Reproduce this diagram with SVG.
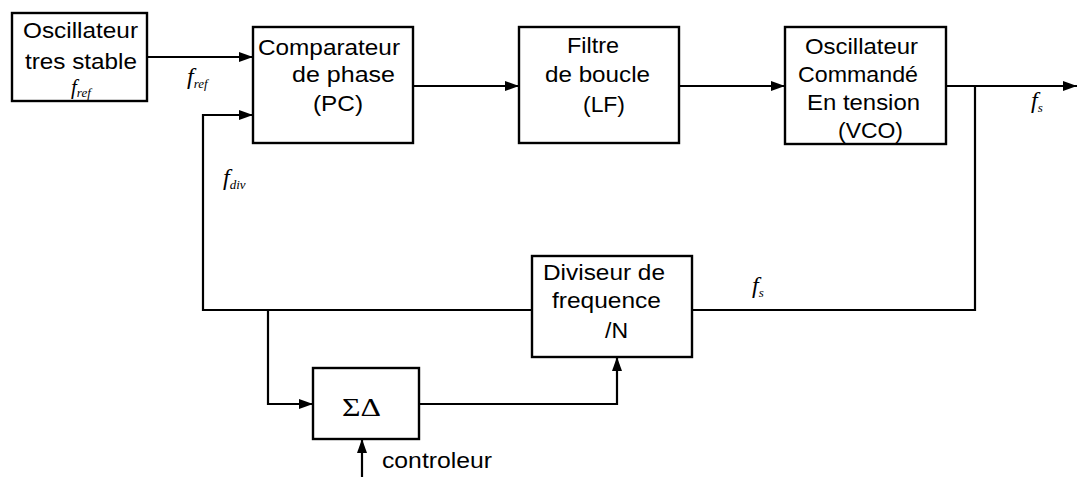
<svg xmlns="http://www.w3.org/2000/svg" width="1078" height="477" viewBox="0 0 1078 477">
  <style>
    .box { fill: #fff; stroke: #000; stroke-width: 2.4; }
    .wire { fill: none; stroke: #000; stroke-width: 2.2; }
    .lbl { font-family: "Liberation Sans", Arial, sans-serif; font-size: 22.5px; fill: #000; }
    .sym { font-family: "Liberation Serif", "Times New Roman", serif; font-style: italic; fill: #000; }
    .f { font-size: 24px; }
    .fs { font-size: 21px; }
    .sub { font-size: 13px; }
    .greek { font-family: "Liberation Serif", "Times New Roman", serif; font-size: 25px; fill: #000; }
  </style>
  <defs>
    <marker id="arrow" markerUnits="userSpaceOnUse" markerWidth="15" markerHeight="11" refX="14" refY="5.5" orient="auto">
      <path d="M0,0.5 L14,5.5 L0,10.5 Z" fill="#000"/>
    </marker>
  </defs>
  <rect width="1078" height="477" fill="#fff"/>

  <!-- signal paths -->
  <g id="connectors">
    <path class="wire" d="M147,57 H253" marker-end="url(#arrow)"/>
    <path class="wire" d="M413,86 H519" marker-end="url(#arrow)"/>
    <path class="wire" d="M679,86 H785" marker-end="url(#arrow)"/>
    <path class="wire" d="M946,86 H1077" marker-end="url(#arrow)"/>
    <path class="wire" d="M975,86 V310 H692"/>
    <path class="wire" d="M532,310 H203 V115 H253" marker-end="url(#arrow)"/>
    <path class="wire" d="M268,310 V404 H313" marker-end="url(#arrow)"/>
    <path class="wire" d="M419,404 H617 V357" marker-end="url(#arrow)"/>
    <path class="wire" d="M362,477 V439" marker-end="url(#arrow)"/>
  </g>

  <!-- frequency labels on the wires -->
  <g id="signal-labels">
    <text class="sym f" x="187" y="84">f<tspan class="sub" dy="4">ref</tspan></text>
    <text class="sym f" x="223" y="185">f<tspan class="sub" dy="4">div</tspan></text>
    <text class="sym f" x="1031" y="108">f<tspan class="sub" dy="4">s</tspan></text>
    <text class="sym f" x="752" y="293">f<tspan class="sub" dy="4">s</tspan></text>
  </g>

  <g id="ref-osc">
    <rect class="box" x="12" y="13" width="135" height="88"/>
    <text class="lbl" x="23" y="38" textLength="115" lengthAdjust="spacingAndGlyphs">Oscillateur</text>
    <text class="lbl" x="25" y="69" textLength="112" lengthAdjust="spacingAndGlyphs">tres stable</text>
    <text class="sym fs" x="71" y="94">f<tspan class="sub" dy="3">ref</tspan></text>
  </g>

  <g id="phase-comparator">
    <rect class="box" x="253" y="27" width="160" height="116"/>
    <text class="lbl" x="258" y="55" textLength="142" lengthAdjust="spacingAndGlyphs">Comparateur</text>
    <text class="lbl" x="292" y="82" textLength="103" lengthAdjust="spacingAndGlyphs">de phase</text>
    <text class="lbl" x="313" y="111" textLength="50" lengthAdjust="spacingAndGlyphs">(PC)</text>
  </g>

  <g id="loop-filter">
    <rect class="box" x="519" y="27" width="160" height="116"/>
    <text class="lbl" x="567" y="53" textLength="52" lengthAdjust="spacingAndGlyphs">Filtre</text>
    <text class="lbl" x="545" y="82" textLength="105" lengthAdjust="spacingAndGlyphs">de boucle</text>
    <text class="lbl" x="583" y="112" textLength="42" lengthAdjust="spacingAndGlyphs">(LF)</text>
  </g>

  <g id="vco">
    <rect class="box" x="785" y="27" width="161" height="117"/>
    <text class="lbl" x="805" y="54" textLength="113" lengthAdjust="spacingAndGlyphs">Oscillateur</text>
    <text class="lbl" x="798" y="82" textLength="120" lengthAdjust="spacingAndGlyphs">Commandé</text>
    <text class="lbl" x="807" y="110" textLength="113" lengthAdjust="spacingAndGlyphs">En tension</text>
    <text class="lbl" x="838" y="138" textLength="65" lengthAdjust="spacingAndGlyphs">(VCO)</text>
  </g>

  <g id="divider">
    <rect class="box" x="532" y="256" width="160" height="101"/>
    <text class="lbl" x="543" y="280" textLength="122" lengthAdjust="spacingAndGlyphs">Diviseur de</text>
    <text class="lbl" x="552" y="308" textLength="109" lengthAdjust="spacingAndGlyphs">frequence</text>
    <text class="lbl" x="605" y="338" textLength="23" lengthAdjust="spacingAndGlyphs">/N</text>
  </g>

  <g id="sigma-delta">
    <rect class="box" x="313" y="368" width="106" height="71"/>
    <text class="greek" x="342" y="416" textLength="39" lengthAdjust="spacingAndGlyphs">ΣΔ</text>
  </g>

  <g id="controller-label">
    <text class="lbl" x="382" y="468" textLength="110" lengthAdjust="spacingAndGlyphs">controleur</text>
  </g>
</svg>
